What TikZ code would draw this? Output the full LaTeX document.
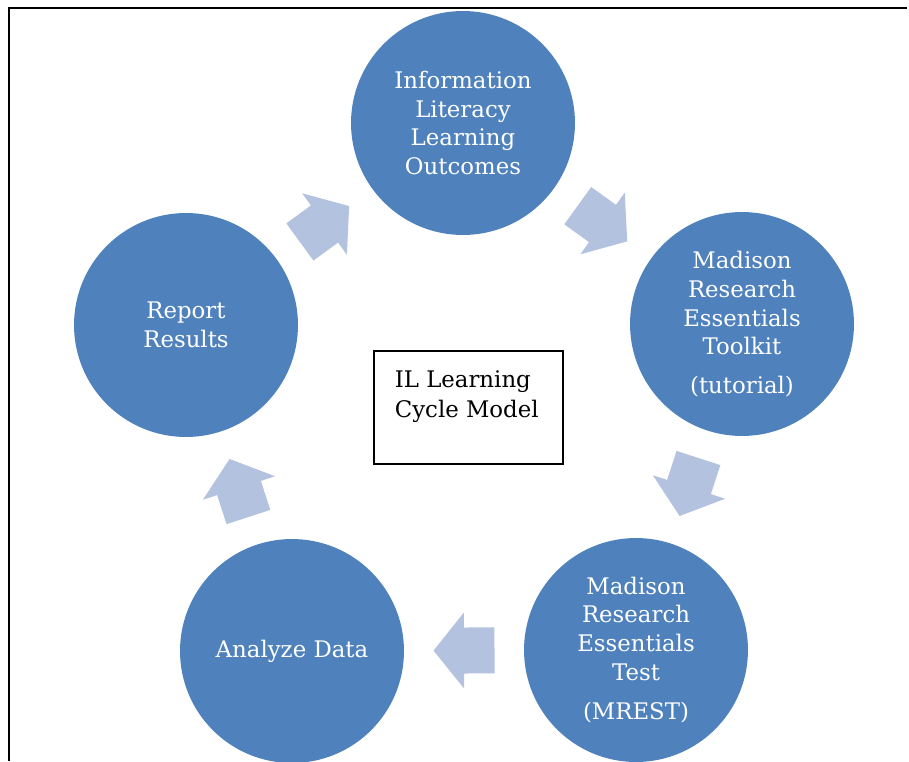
\documentclass[tikz,border=0pt]{standalone}
\usepackage{fontspec}
\setmainfont{DejaVu Serif}
\usetikzlibrary{calc}

\definecolor{stageblue}{RGB}{79,129,189}
\definecolor{arrowblue}{RGB}{179,194,222}

\tikzset{
  stage/.style={circle, fill=stageblue, text=white, inner sep=0pt,
    minimum size=4.48cm, align=center,
    font=\fontsize{13}{16.4}\selectfont},
  modelbox/.style={draw, line width=0.6pt, inner sep=0pt,
    minimum width=3.78cm, minimum height=2.26cm},
  cyclearrow/.pic={
    \fill[arrowblue] (-30.5,-23) -- (0,-23) -- (0,-38) -- (30.5,0)
      -- (0,38) -- (0,23) -- (-30.5,23) -- cycle;
  },
}

\begin{document}
\begin{tikzpicture}[x=0.02cm, y=-0.02cm]
\useasboundingbox (0,0) rectangle (909,761);

% page frame, top and left edge
\draw[line width=1pt] (9,761) -- (9,8) -- (907,8);

% the five stages of the cycle
\node[stage] (outcomes) at (463,123) {Information\\Literacy\\Learning\\Outcomes};
\node[stage] (toolkit) at (742,324) {Madison\\Research\\Essentials\\Toolkit\\[5.5pt](tutorial)};
\node[stage] (test) at (636,650) {Madison\\Research\\Essentials\\Test\\[6pt](MREST)};
\node[stage] (analyze) at (292,651) {Analyze Data};
\node[stage] (report) at (186,325) {Report\\Results};

% block arrows half way between neighbours
\foreach \a/\b in {outcomes/toolkit, toolkit/test, test/analyze, analyze/report, report/outcomes}
  \path let \p1 = ($(\b)-(\a)$), \n1 = {atan2(\y1,\x1)} in
    ($(\a)!0.5!(\b)$) pic[rotate=\n1] {cyclearrow};

% title box in the middle
\node[modelbox] (model) at (468.5,407.5) {};
\node[anchor=north west, inner sep=0pt, align=left,
  font=\fontsize{13}{17}\selectfont] (modeltitle)
  at ($(model.north west)+(21,20)$) {IL Learning\\Cycle Model};

\end{tikzpicture}
\end{document}
